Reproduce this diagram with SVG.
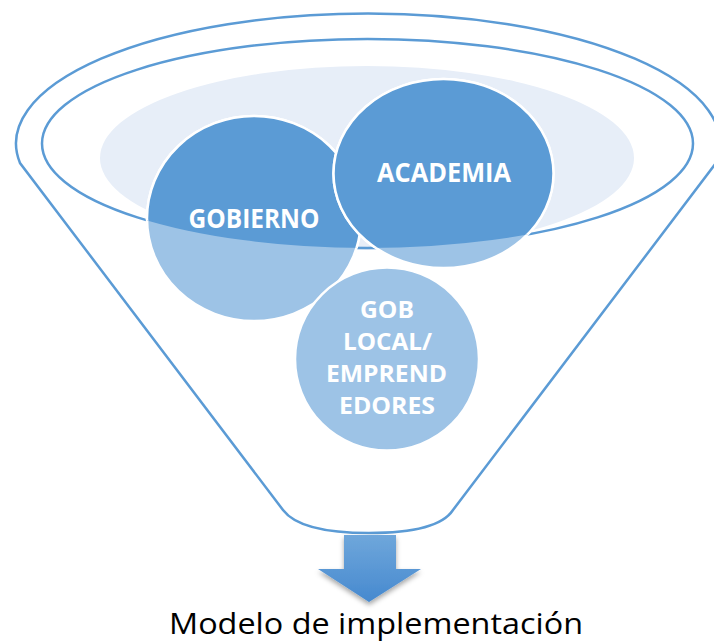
<svg xmlns="http://www.w3.org/2000/svg" width="714" height="643" viewBox="0 0 714 643">
<style>
.outline{fill:none;stroke:#5B9BD5;stroke-width:2.5}
.dark{fill:#5B9BD5;stroke:#FFFFFF;stroke-width:2.5}
.light{fill:#9DC3E6;stroke:#FFFFFF;stroke-width:2.5}
.lbl{font-family:"Open Sans","Liberation Sans",sans-serif;font-weight:bold;fill:#FFFFFF;text-anchor:middle}
.cap{font-family:"Open Sans","Liberation Sans",sans-serif;fill:#000000;text-anchor:middle}
</style>
<defs>
<clipPath id="inner"><ellipse cx="367.5" cy="143.5" rx="325.5" ry="104.5"/></clipPath>
<linearGradient id="arrowGrad" x1="0" y1="0" x2="0" y2="1">
<stop offset="0" stop-color="#6FA7DB"/>
<stop offset="1" stop-color="#4689CF"/>
</linearGradient>
<filter id="shadow" x="-30%" y="-30%" width="160%" height="160%">
<feDropShadow dx="0" dy="3" stdDeviation="2.5" flood-color="#000000" flood-opacity="0.35"/>
</filter>
</defs>
<rect width="714" height="643" fill="#FFFFFF"/>
<g id="funnel">
<ellipse cx="367" cy="158" rx="267" ry="92" fill="#E7EEF8"/>
<path class="outline" d="M20,163 A352,130 0 1 1 716,163 L453,510 C440,530 400,533 369,533 C338,533 298,530 283,510 Z"/>
<ellipse class="outline" cx="367.5" cy="143.5" rx="325.5" ry="104.5"/>
</g>
<g id="node-gobierno">
<ellipse class="light" cx="254" cy="218.5" rx="107" ry="102.5"/>
<ellipse class="dark" cx="254" cy="218.5" rx="107" ry="102.5" clip-path="url(#inner)"/>
<text class="lbl" x="254" y="228" font-size="27" textLength="131" lengthAdjust="spacingAndGlyphs">GOBIERNO</text>
</g>
<g id="node-academia">
<ellipse class="light" cx="443.5" cy="173.5" rx="110" ry="94.5"/>
<ellipse class="dark" cx="443.5" cy="173.5" rx="110" ry="94.5" clip-path="url(#inner)"/>
<text class="lbl" x="444" y="182" font-size="27" textLength="134" lengthAdjust="spacingAndGlyphs">ACADEMIA</text>
</g>
<g id="node-goblocal">
<ellipse class="light" cx="387" cy="359" rx="92" ry="91.5"/>
<text class="lbl" x="387" y="318" font-size="23" textLength="54" lengthAdjust="spacingAndGlyphs">GOB</text>
<text class="lbl" x="387.5" y="350" font-size="23" textLength="89" lengthAdjust="spacingAndGlyphs">LOCAL/</text>
<text class="lbl" x="386.5" y="382" font-size="23" textLength="121" lengthAdjust="spacingAndGlyphs">EMPREND</text>
<text class="lbl" x="387" y="414" font-size="23" textLength="96" lengthAdjust="spacingAndGlyphs">EDORES</text>
</g>
<g id="connectors">
<path d="M344,535 L396,535 L396,569 L421,569 L369,602 L318,569 L344,569 Z" fill="url(#arrowGrad)" filter="url(#shadow)"/>
</g>
<g id="caption">
<text class="cap" x="376" y="634" font-size="30" textLength="414" lengthAdjust="spacingAndGlyphs">Modelo de implementación</text>
</g>
</svg>
